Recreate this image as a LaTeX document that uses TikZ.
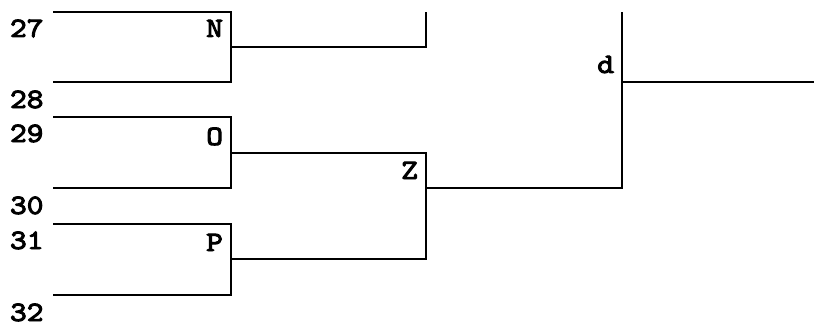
\documentclass[tikz,border=0pt]{standalone}
\usepackage{fontspec}
\newfontfamily\bracketfont[FakeBold=3.5, FakeStretch=1.14]{lmmono10-regular.otf}
\tikzset{
  seedno/.style={anchor=base west, inner sep=0pt,
    font=\bracketfont\fontsize{28}{28}\selectfont},
  winner/.style={anchor=base east, inner sep=0pt,
    font=\bracketfont\fontsize{28}{28}\selectfont},
}
\begin{document}
\begin{tikzpicture}[x=1pt, y=-1pt, line width=2pt, line join=miter]
    \useasboundingbox (0,0) rectangle (814,329);
    % First round: seeds 27 to 32
    \foreach \a/\b/\ya/\yb in {27/28/12/82, 29/30/117/188, 31/32/224/295} {
        \coordinate (in\a) at (53,\ya);
        \coordinate (in\b) at (53,\yb);
        \coordinate (out\a) at (231,\ya);
        \coordinate (out\b) at (231,\yb);
        \node[seedno] (seed\a) at (9,\ya+25) {\a};
        \node[seedno] (seed\b) at (9,\yb+26) {\b};
        \draw (in\a) -- (out\a) -- (out\b) -- (in\b);
    }
    % Winners of the first round
    \node[winner] (N) at (224,37) {N};
    \node[winner] (O) at (224,145) {O};
    \node[winner] (P) at (224,251) {P};
    \coordinate (jN) at (231,47);
    \coordinate (jO) at (231,153);
    \coordinate (jP) at (231,259);
    % Second round
    \coordinate (eN) at (426,47);
    \coordinate (topN) at (426,12);
    \coordinate (eO) at (426,153);
    \coordinate (eP) at (426,259);
    \draw (jN) -- (eN) -- (topN);
    \draw (jO) -- (eO) -- (eP) -- (jP);
    \node[winner] (Z) at (419,179) {Z};
    % Third round
    \coordinate (jZ) at (426,188);
    \coordinate (eZ) at (622,188);
    \coordinate (topd) at (622,12);
    \coordinate (jd) at (622,82);
    \coordinate (ed) at (814,82);
    \draw (jZ) -- (eZ) -- (topd);
    \draw (jd) -- (ed);
    \node[winner] (d) at (615,73) {d};
\end{tikzpicture}
\end{document}
